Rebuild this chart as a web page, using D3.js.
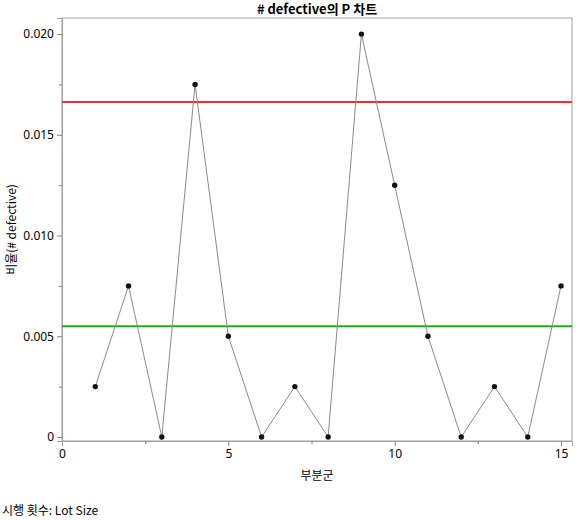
<!DOCTYPE html>
<html><head><meta charset="utf-8">
<script src="https://d3js.org/d3.v7.min.js"></script>
<style>body{margin:0;background:#fff;font-family:"Noto Sans CJK KR","Noto Sans",sans-serif;}</style>
</head><body>
<div id="chart"></div>
<script>
const subgroups = d3.range(1, 16);
const proportions = [0.0025, 0.0075, 0, 0.0175, 0.005, 0, 0.0025, 0, 0.02, 0.0125, 0.005, 0, 0.0025, 0, 0.0075];
const centerLine = 0.0055;
const upperLimit = 0.01663;
const xTicks = [0, 5, 10, 15];
const yTicks = [0, 0.005, 0.01, 0.015, 0.02];
const yTickLabels = ["0", "0.005", "0.010", "0.015", "0.020"];

const W = 580, H = 520;
const m = {left: 62, right: 8, top: 18, bottom: 79};
const svg = d3.select("#chart").append("svg").attr("width", W).attr("height", H);

const x = d3.scaleLinear().domain([0, 15.33]).range([m.left, W - m.right]);
const y = d3.scaleLinear().domain([-0.0002, 0.0208]).range([H - m.bottom, m.top]);

svg.append("rect").attr("x", m.left).attr("y", m.top)
  .attr("width", W - m.left - m.right).attr("height", H - m.top - m.bottom)
  .attr("fill", "none").attr("stroke", "#a0a0a0");

const xa = svg.append("g").attr("transform", `translate(0,${H - m.bottom})`)
  .call(d3.axisBottom(x).tickValues(xTicks).tickSize(5));
svg.append("g").attr("transform", `translate(0,${H - m.bottom})`)
  .call(d3.axisBottom(x).tickValues(d3.range(2.5, 15.3, 5)).tickSize(3).tickFormat(""));
const ya = svg.append("g").attr("transform", `translate(${m.left},0)`)
  .call(d3.axisLeft(y).tickValues(yTicks).tickSize(5).tickFormat((d, i) => yTickLabels[i]));
svg.append("g").attr("transform", `translate(${m.left},0)`)
  .call(d3.axisLeft(y).tickValues(d3.range(0.0025, 0.0205, 0.005)).tickSize(3).tickFormat(""));
svg.selectAll(".domain").attr("stroke", "#a0a0a0");
svg.selectAll(".tick line").attr("stroke", "#808080");
svg.selectAll(".tick text").attr("font-size", 12).attr("fill", "#000")
  .attr("font-family", "Noto Sans, sans-serif");

svg.append("line").attr("x1", m.left).attr("x2", W - m.right)
  .attr("y1", y(upperLimit)).attr("y2", y(upperLimit)).attr("stroke", "#e8303a").attr("stroke-width", 2);
svg.append("line").attr("x1", m.left).attr("x2", W - m.right)
  .attr("y1", y(centerLine)).attr("y2", y(centerLine)).attr("stroke", "#22aa22").attr("stroke-width", 2);

svg.append("path").datum(proportions)
  .attr("d", d3.line().x((d, i) => x(subgroups[i])).y(d => y(d)))
  .attr("fill", "none").attr("stroke", "#8a8a8a").attr("stroke-width", 1);
svg.selectAll("circle.pt").data(proportions).join("circle")
  .attr("cx", (d, i) => x(subgroups[i])).attr("cy", d => y(d)).attr("r", 2.7).attr("fill", "#111");

svg.append("text").attr("x", (m.left + W - m.right) / 2).attr("y", 14).attr("text-anchor", "middle")
  .attr("font-size", 13).attr("font-weight", "bold").text("# defective의 P 차트");
svg.append("text").attr("x", (m.left + W - m.right) / 2).attr("y", 480).attr("text-anchor", "middle")
  .attr("font-size", 12).text("부분군");
svg.append("text").attr("transform", `translate(16,${(m.top + H - m.bottom) / 2}) rotate(-90)`)
  .attr("text-anchor", "middle").attr("font-size", 12).text("비율(# defective)");
svg.append("text").attr("x", 2).attr("y", 515).attr("font-size", 12).text("시행 횟수: Lot Size");
</script>
</body></html>
